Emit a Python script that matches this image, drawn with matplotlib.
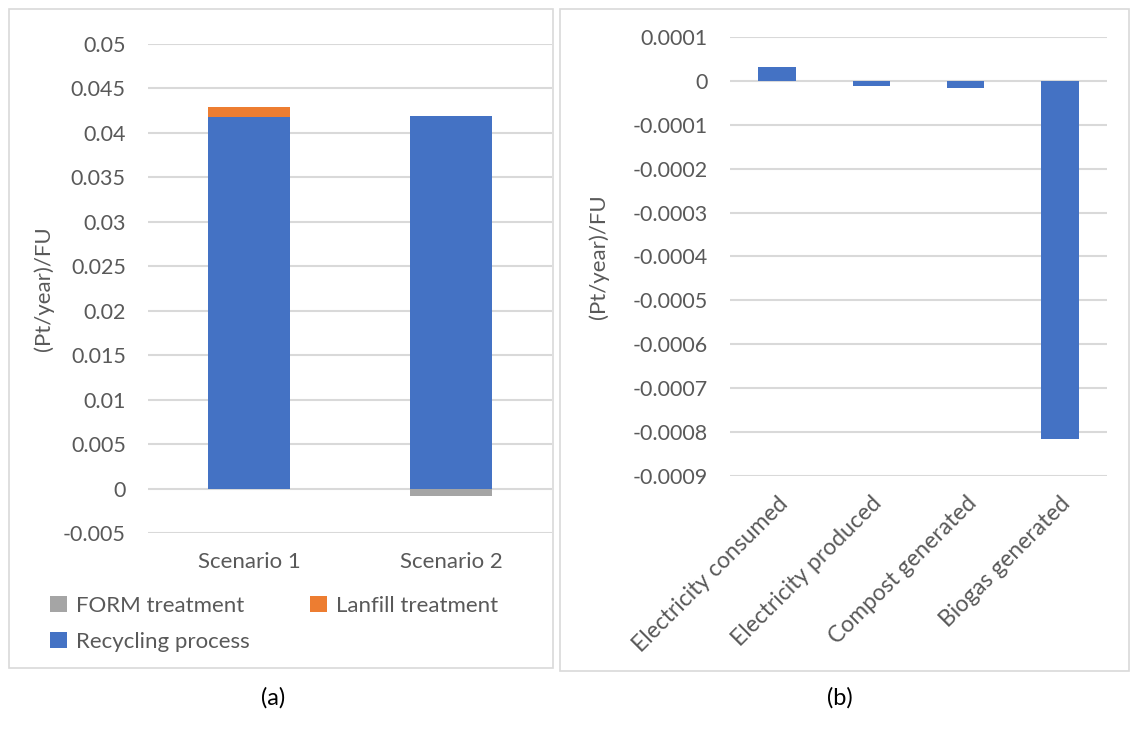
import numpy as np
import matplotlib
matplotlib.use('Agg')
import matplotlib.pyplot as plt
from matplotlib.patches import Rectangle

plt.rcParams['font.family'] = ['Lato', 'DejaVu Sans']

# panel (a) data
scenarios = ["Scenario 1", "Scenario 2"]
form_treatment = [0.0, -0.0008]
landfill_treatment = [0.0011, 0.0]
recycling_process = [0.0418, 0.0419]

# panel (b) data
processes = ["Electricity consumed", "Electricity produced", "Compost generated", "Biogas generated"]
process_values = [0.000032, -0.0000115, -0.000016, -0.000815]

BLUE = "#4472C4"
ORANGE = "#ED7D31"
GRAY = "#A5A5A5"
GRID = "#D9D9D9"
TXT = "#595959"

W, H = 1131, 740
fig = plt.figure(figsize=(W / 100, H / 100), dpi=100)


def px_axes(x0, x1, ytop, ybot):
    return fig.add_axes([x0 / W, 1 - ybot / H, (x1 - x0) / W, (ybot - ytop) / H])


# panel borders
for (x0, y0, x1, y1) in [(9, 9, 553, 668), (560, 9, 1129, 671)]:
    fig.patches.append(Rectangle((x0 / W, 1 - y1 / H), (x1 - x0) / W, (y1 - y0) / H,
                                 transform=fig.transFigure, fill=False,
                                 edgecolor=GRID, linewidth=1.2))


def style(ax):
    for s in ax.spines.values():
        s.set_visible(False)
    ax.yaxis.grid(True, color=GRID, linewidth=1.5)
    ax.set_axisbelow(True)
    ax.tick_params(length=0, labelsize=15.5, labelcolor=TXT)
    ax.tick_params(axis='y', pad=16)


# (a)
ax1 = px_axes(148, 552, 44, 533)
x = np.arange(len(scenarios))
w = 0.405
ax1.bar(x, form_treatment, w, color=GRAY, label="FORM treatment")
ax1.bar(x, recycling_process, w, color=BLUE, label="Recycling process")
ax1.bar(x, landfill_treatment, w, bottom=recycling_process, color=ORANGE, label="Lanfill treatment")
ax1.set_xlim(-0.5, 1.5)
ax1.set_ylim(-0.005, 0.05)
ax1.set_yticks(np.arange(-0.005, 0.0501, 0.005))
ax1.set_yticklabels(["-0.005", "0", "0.005", "0.01", "0.015", "0.02", "0.025",
                     "0.03", "0.035", "0.04", "0.045", "0.05"])
ax1.set_xticks(x)
ax1.set_xticklabels(scenarios)
style(ax1)
ax1.tick_params(axis='x', pad=14, labelsize=16)
ax1.set_ylabel("(Pt/year)/FU", fontsize=16, color=TXT)
ax1.yaxis.set_label_coords((54 - 148) / 404, 0.5)
ax1.legend(ncol=2, loc='upper left', bbox_to_anchor=(50 / W, 1 - 596 / H),
           bbox_transform=fig.transFigure, frameon=False, fontsize=16,
           labelcolor=TXT, handlelength=0.75, handleheight=0.75, handletextpad=0.4,
           columnspacing=2.75, borderaxespad=0, borderpad=0, labelspacing=0.7)

# (b)
ax2 = px_axes(730, 1107, 37, 476)
x2 = np.arange(len(processes))
ax2.bar(x2, process_values, 0.4, color=BLUE)
ax2.set_xlim(-0.5, 3.5)
ax2.set_ylim(-0.0009, 0.0001)
ticks = np.arange(-9, 2) * 0.0001
ax2.set_yticks(ticks)
ax2.set_yticklabels(["-0.0009", "-0.0008", "-0.0007", "-0.0006", "-0.0005", "-0.0004",
                     "-0.0003", "-0.0002", "-0.0001", "0", "0.0001"])
ax2.set_xticks(x2)
ax2.set_xticklabels(processes, rotation=45, ha='right', va='top', rotation_mode='anchor')
style(ax2)
ax2.tick_params(axis='x', pad=12, labelsize=16.5)
ax2.set_ylabel("(Pt/year)/FU", fontsize=16, color=TXT)
ax2.yaxis.set_label_coords((609 - 730) / 377, 0.5)

fig.text(273 / W, 1 - 698 / H, "(a)", fontsize=17, color="black", ha='center', va='center')
fig.text(840 / W, 1 - 698 / H, "(b)", fontsize=17, color="black", ha='center', va='center')

fig.savefig("out.png", dpi=100)
